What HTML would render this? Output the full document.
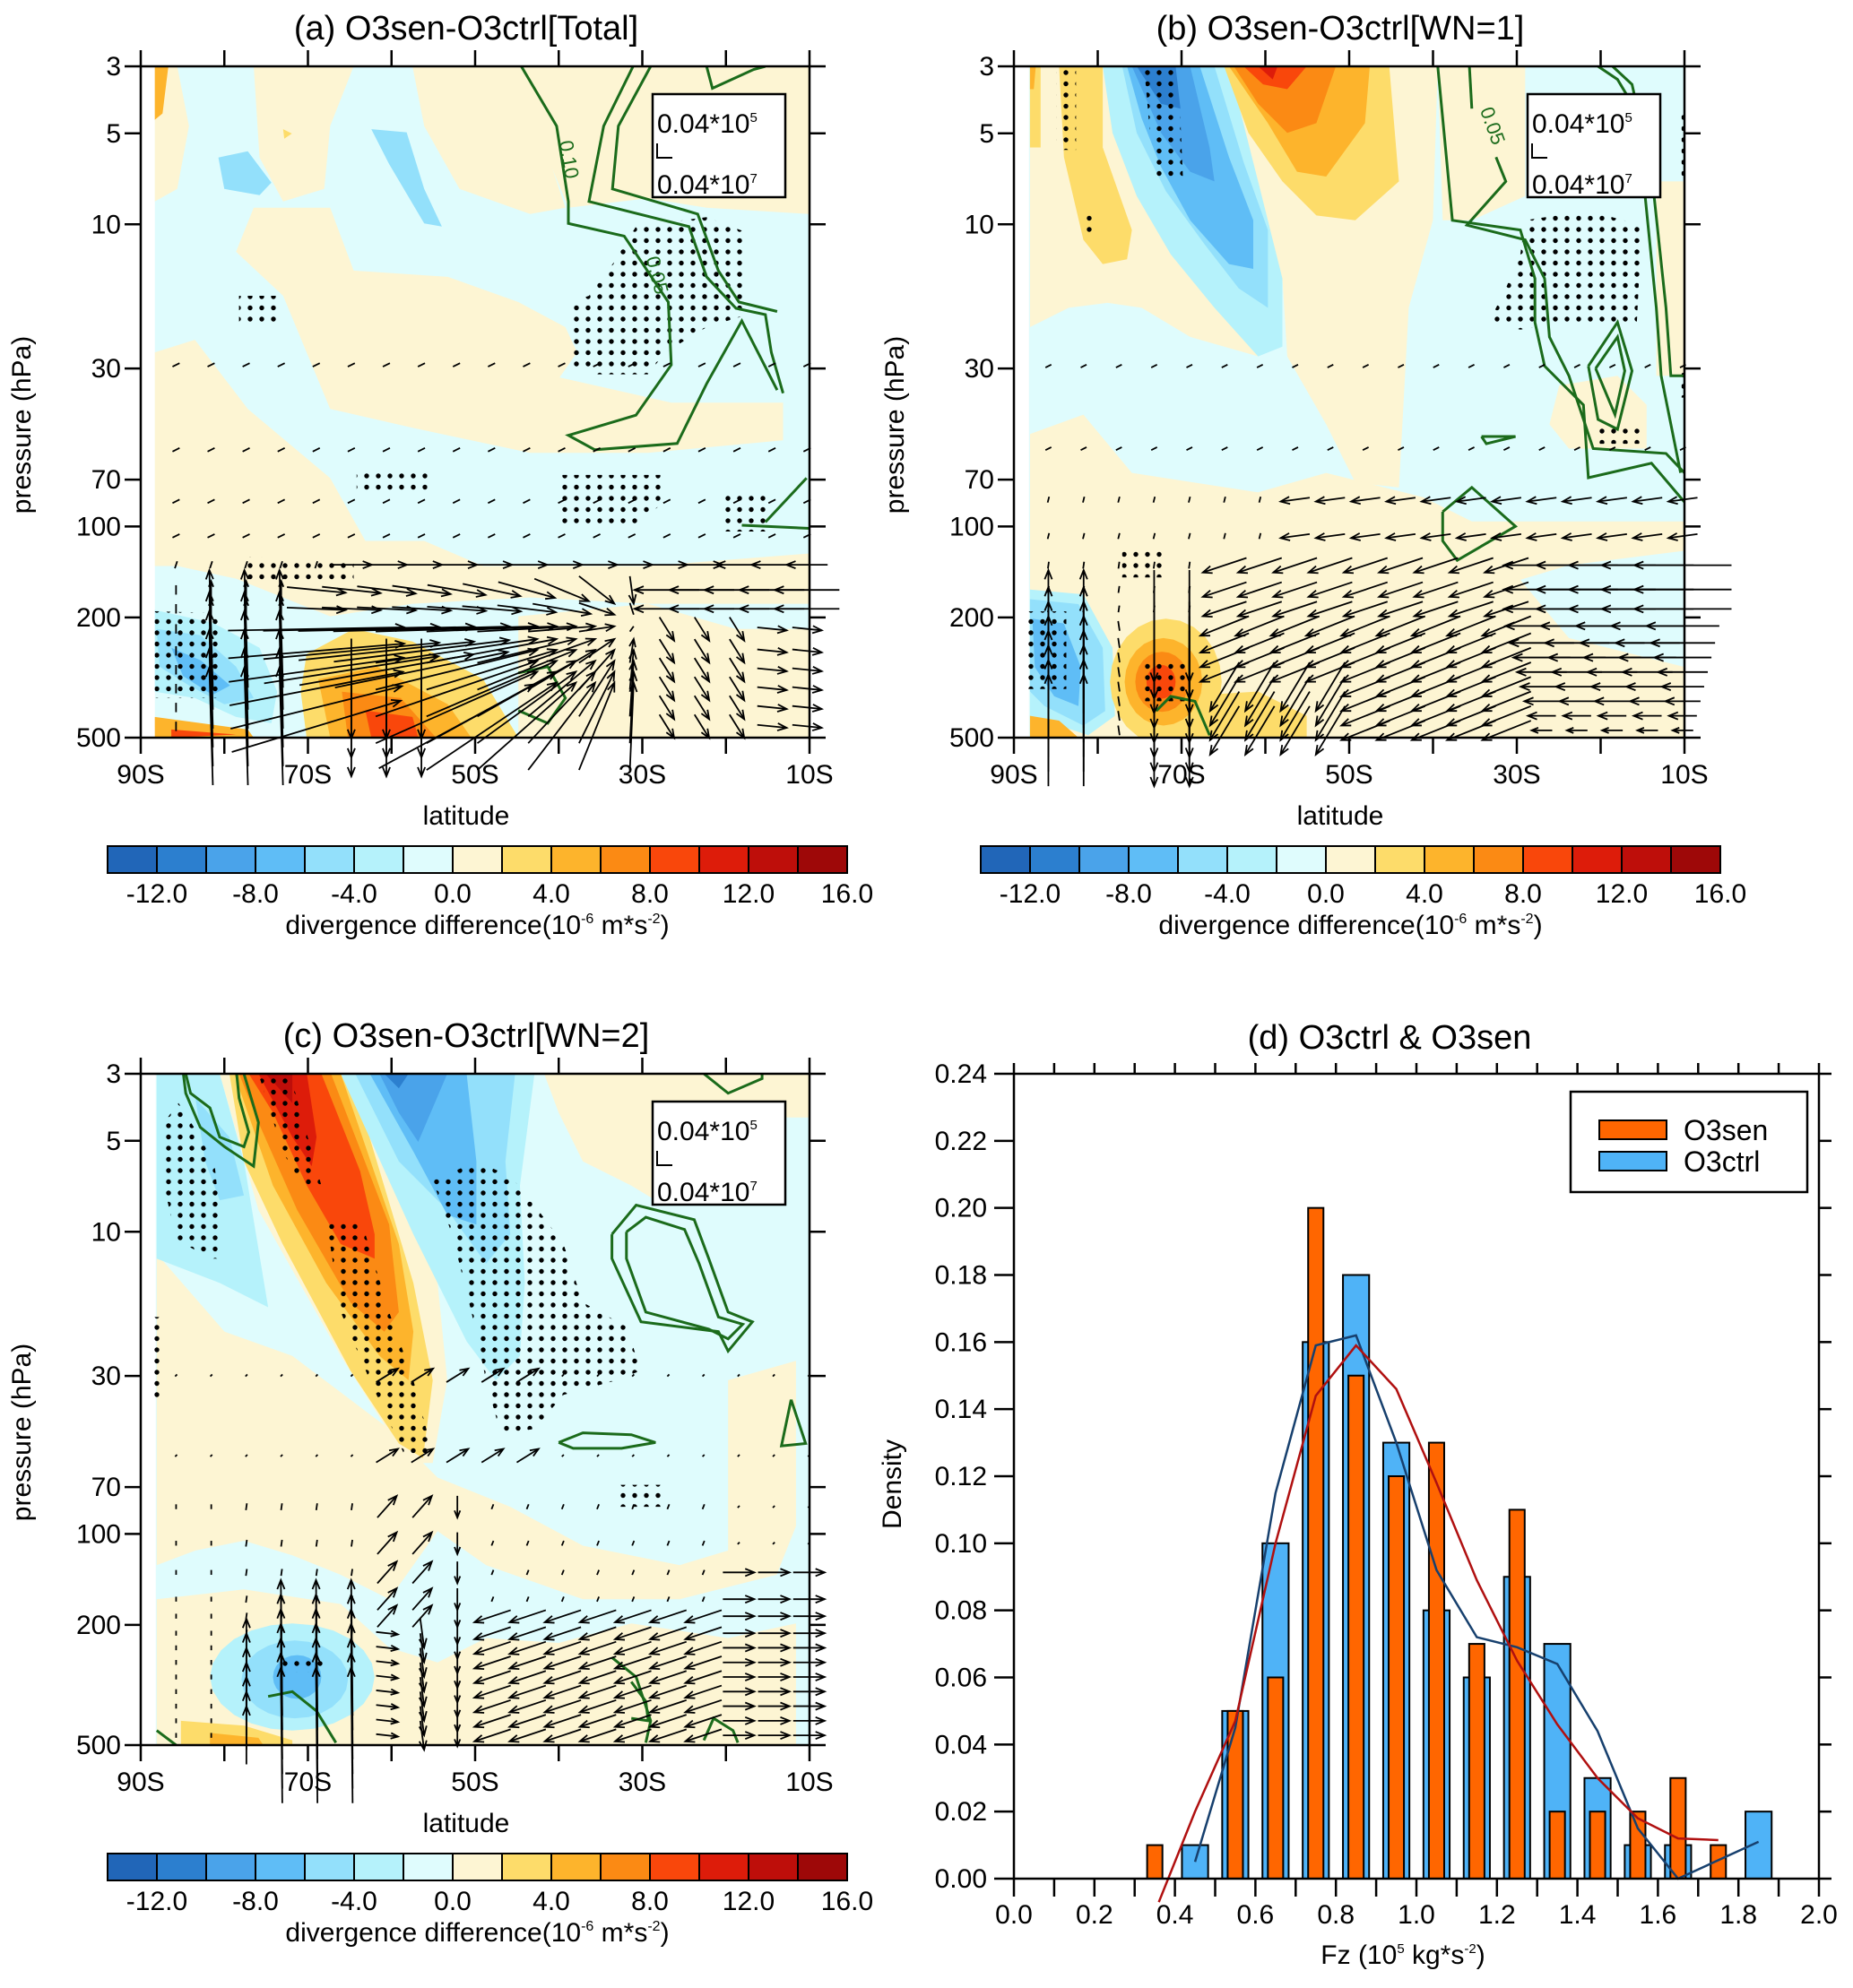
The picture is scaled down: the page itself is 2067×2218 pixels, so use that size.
<!DOCTYPE html>
<html><head><meta charset="utf-8">
<style>
html,body{margin:0;padding:0;background:#fff;}
svg{display:block;font-family:"Liberation Sans",sans-serif;}
</style></head>
<body>
<svg id="fig" width="2067" height="2218" viewBox="0 0 2067 2218" xmlns="http://www.w3.org/2000/svg">
<defs>
<pattern id="dots" width="13" height="12.5" patternUnits="userSpaceOnUse"><circle cx="6" cy="6" r="2.7" fill="#000"/></pattern>
<clipPath id="clipA"><rect x="157" y="74" width="746" height="749"/></clipPath>
<clipPath id="clipB"><rect x="1131" y="74" width="748" height="749"/></clipPath>
<clipPath id="clipC"><rect x="157" y="1198" width="746" height="749"/></clipPath>
</defs>
</svg>
<script>
// ---------- Panel (d) histogram data ----------
const binCenters = [0.35,0.45,0.55,0.65,0.75,0.85,0.95,1.05,1.15,1.25,1.35,1.45,1.55,1.65,1.75,1.85];
const ctrlDensity = [0.00,0.01,0.05,0.10,0.16,0.18,0.13,0.08,0.06,0.09,0.07,0.03,0.01,0.01,0.00,0.02];
const senDensity  = [0.01,0.00,0.05,0.06,0.20,0.15,0.12,0.13,0.07,0.11,0.02,0.02,0.02,0.03,0.01,0.00];
const ctrlCurveX = [0.45,0.55,0.65,0.75,0.85,0.95,1.05,1.15,1.25,1.35,1.45,1.55,1.65,1.85];
const ctrlCurveY = [0.005,0.045,0.115,0.159,0.162,0.13,0.092,0.072,0.069,0.064,0.044,0.015,0.0,0.011];
const senCurveX = [0.36,0.45,0.55,0.65,0.75,0.85,0.95,1.05,1.15,1.25,1.35,1.45,1.55,1.65,1.75];
const senCurveY = [-0.007,0.02,0.047,0.10,0.144,0.159,0.146,0.118,0.089,0.065,0.046,0.03,0.018,0.012,0.0115];
const dYTicks = [0,0.02,0.04,0.06,0.08,0.10,0.12,0.14,0.16,0.18,0.20,0.22,0.24];
const dXTicks = [0.0,0.2,0.4,0.6,0.8,1.0,1.2,1.4,1.6,1.8,2.0];
// ---------- contour panel axes ----------
const pTicks = [3,5,10,30,70,100,200,500];
const latTicks = [-90,-70,-50,-30,-10];
const cbLabels = ["-12.0","-8.0","-4.0","0.0","4.0","8.0","12.0","16.0"];
const cbColors = ['#2166b8','#2c7fcf','#4aa3ea','#5fbdf6','#93e0fb','#b5f2fb','#dffcfd','#fdf5d3','#fddc6a','#fdb42c','#fb8a14','#f9470b','#dd1c0a','#be0e0a','#9e0808'];

const NS="http://www.w3.org/2000/svg";
const svg=document.getElementById('fig');
function el(tag,attrs,parent){const e=document.createElementNS(NS,tag);for(const k in attrs)e.setAttribute(k,attrs[k]);(parent||svg).appendChild(e);return e;}
function txt(s,x,y,size,anchor,parent){const t=el('text',{x:x,y:y,'font-size':size,'text-anchor':anchor||'middle',fill:'#000'},parent);t.textContent=s;return t;}

const PY='#fdf5d3',Y2='#fddc6a',O1='#fdb42c',O2='#fb8a14',R1='#f9470b',R2='#dd1c0a',R3='#be0e0a';
const B1='#b5f2fb',B2='#93e0fb',B3='#5fbdf6',B4='#4aa3ea',B5='#2c7fcf';
function ell(cx,cy,rx,ry){const p=[];for(let i=0;i<24;i++){const a=i/24*2*Math.PI;p.push([cx+rx*Math.cos(a),cy+ry*Math.sin(a)]);}return p;}

const panels=[
 {id:'a',title:'(a) O3sen-O3ctrl[Total]',X:157,Y:74,W:746,H:749,zx0:238,zy0:105,zw:1137,zh:1068,dataStart:262,clip:'clipA',
  shapes:[
   [PY,[[880,105],[1375,105],[1375,340],[1200,330],[1100,315],[965,330],[930,250],[900,180]]],
   [PY,[[430,105],[600,105],[560,200],[550,300],[480,320],[440,250]]],
   [PY,[[700,105],[880,105],[960,330],[900,340],[780,300],[720,200]]],
   [PY,[[262,105],[300,105],[320,200],[300,300],[262,320]]],
   [PY,[[430,330],[560,330],[600,430],[760,440],[880,480],[960,520],[980,560],[950,600],[1140,640],[1330,640],[1330,700],[1100,720],[900,720],[700,680],[560,650],[520,560],[480,470],[400,400]]],
   [PY,[[262,560],[330,540],[420,650],[560,760],[620,860],[720,860],[820,900],[1000,900],[1100,900],[1375,880],[1375,960],[1100,960],[900,950],[700,960],[560,980],[400,920],[300,900],[262,900]]],
   [PY,[[880,980],[1100,960],[1250,1000],[1375,1000],[1375,1173],[880,1173]]],
   [Y2,[[520,1040],[600,1000],[700,1020],[820,1080],[880,1173],[520,1173],[510,1100]]],
   [O1,[[540,1080],[640,1060],[760,1120],[800,1173],[560,1173]]],
   [O2,[[580,1100],[680,1110],[740,1173],[590,1173]]],
   [R1,[[620,1130],[700,1140],[710,1173],[630,1173]]],
   [O1,[[262,1140],[420,1160],[430,1173],[262,1173]]],
   [R1,[[290,1160],[400,1168],[290,1173]]],
   [O1,[[262,105],[285,105],[275,180],[262,190]]],
   [Y2,[[480,205],[495,212],[482,220]]],
   [B1,[[262,970],[360,990],[440,1030],[470,1100],[460,1150],[400,1140],[330,1110],[262,1100]]],
   [B2,[[265,1000],[340,1010],[400,1060],[430,1110],[380,1120],[320,1090],[270,1060]]],
   [B3,[[290,1030],[340,1050],[390,1090],[360,1105],[310,1075]]],
   [B2,[[370,250],[420,240],[460,290],[440,310],[380,300]]],
   [B2,[[630,205],[690,210],[720,300],[750,360],[720,355],[660,260]]]
  ],
  dots:[
   [[1080,360],[1200,345],[1270,370],[1270,500],[1200,520],[1130,560],[1100,595],[1010,595],[970,580],[970,480],[1000,470],[1040,420]],
   [[405,470],[470,470],[470,520],[405,520]],
   [[605,745],[725,745],[725,780],[605,780]],
   [[945,755],[1125,755],[1125,800],[1080,835],[945,835]],
   [[1225,780],[1310,780],[1310,845],[1225,845]],
   [[262,972],[370,975],[375,1110],[262,1110]],
   [[420,885],[600,890],[600,925],[420,925]]
  ],
  green:[
   [[885,105],[945,200],[965,320],[965,355],[1060,375],[1135,480],[1140,580],[1080,660],[965,692],[1010,715],[1150,705],[1200,610],[1260,510],[1320,620]],
   [[1075,105],[1025,200],[1000,320],[1170,360],[1200,440],[1250,490],[1300,500],[1310,560],[1330,625]],
   [[1105,105],[1050,200],[1040,300],[1185,340],[1220,430],[1255,480],[1320,495]],
   [[1200,105],[1210,140],[1280,110],[1300,105]],
   [[1260,835],[1375,840]],[[1300,830],[1370,760]],
   [[880,1070],[930,1060],[960,1110],[930,1150],[880,1130]]
  ],
  glabels:[['0.10',955,255,80],['0.05',1105,440,75]],
  cols:{start:298,step:59.6,n:19},rows:[580,715,797,852,898,938,968,1000,1035,1065,1095,1125,1155],
  fn:function(x,y){
   if(y<=852) return [12,-6];
   if(y===898){ if(x<560) return [4,-12]; if(x<1250) return [70,0]; return [-70,0]; }
   if(x<330) return [0,16];
   if(x<500){ if(y>=1000) return [-6,-200]; return [0,-30]; }
   if(x<1090){
     if(y>=1095 && x>=580 && x<=740) return [0,170];
     const dx=1080-x, dy=990-y, d=Math.hypot(dx,dy); if(d<1) return [0,0];
     const cap = y<=968 ? 100 : 300;
     const L=Math.min(d*0.9,cap); return [dx/d*L,dy/d*L];
   }
   if(y<=968) return [-110,0];
   if(x>1300) return [50,5];
   return [25,40];
  }},
 {id:'b',title:'(b) O3sen-O3ctrl[WN=1]',X:1131,Y:74,W:748,H:749,zx0:57,zy0:63,zw:1381,zh:1382,dataStart:88,clip:'clipB',
  shapes:[
   [PY,[[90,63],[270,63],[300,300],[400,430],[530,560],[570,640],[560,660],[420,620],[320,560],[250,550],[170,560],[90,600]]],
   [PY,[[480,63],[930,63],[920,380],[870,560],[850,930],[760,920],[700,800],[620,660],[610,500],[560,400],[480,200]]],
   [PY,[[930,63],[1110,63],[1110,330],[1000,380],[940,380]]],
   [PY,[[1380,300],[1438,300],[1438,700],[1380,700]]],
   [PY,[[1180,720],[1300,700],[1360,760],[1360,850],[1200,850],[1160,800]]],
   [PY,[[90,820],[200,780],[300,900],[430,920],[560,940],[700,900],[900,950],[1000,1000],[1200,1000],[1440,1000],[1440,1060],[1200,1090],[1100,1120],[1200,1240],[1440,1300],[1440,1445],[90,1445]]],
   [B1,[[240,63],[500,63],[560,300],[610,500],[610,640],[560,660],[470,560],[380,450],[310,330],[260,200]]],
   [B2,[[280,63],[470,63],[530,260],[580,400],[580,560],[520,520],[450,430],[370,320],[310,200]]],
   [B3,[[290,63],[440,63],[500,250],[550,380],[550,480],[500,470],[420,380],[360,270],[320,170]]],
   [B4,[[300,63],[420,63],[460,230],[470,300],[420,280],[360,200]]],
   [B5,[[310,63],[390,63],[400,150],[360,140]]],
   [Y2,[[490,63],[830,63],[850,300],[760,380],[680,370],[610,300],[540,200]]],
   [O1,[[500,63],[790,63],[780,180],[700,290],[640,280],[580,180]]],
   [O2,[[510,63],[720,63],[680,180],[620,200],[560,140]]],
   [R1,[[530,63],[660,63],[620,110],[570,100]]],
   [R2,[[560,63],[600,63],[590,90]]],
   [Y2,[[150,63],[240,63],[240,230],[300,400],[290,460],[240,470],[200,420],[160,250]]],
   [Y2,[[90,63],[112,63],[112,230],[90,230]]],
   [O1,[[90,63],[102,63],[98,110],[90,110]]],
   [B1,[[90,1140],[200,1150],[260,1260],[265,1400],[210,1440],[90,1400]]],
   [B2,[[90,1160],[190,1170],[240,1260],[245,1390],[200,1420],[120,1380],[90,1350]]],
   [B3,[[95,1200],[160,1210],[195,1300],[190,1380],[140,1360],[100,1300]]],
   [Y2,[[400,1360],[560,1350],[660,1400],[660,1445],[400,1445]]],
   [Y2,ell(370,1330,115,130)],[O1,ell(365,1330,80,90)],[O2,ell(362,1330,55,62)],[R1,ell(360,1330,30,35)],
   [O1,[[90,1400],[150,1410],[190,1445],[90,1445]]]
  ],
  dots:[
   [[145,70],[185,70],[185,235],[145,235]],
   [[325,63],[395,63],[405,290],[345,290]],
   [[1110,380],[1240,360],[1350,390],[1340,590],[1200,590],[1100,605],[1035,590],[1070,520],[1100,450]],
   [[1255,800],[1355,800],[1355,840],[1255,840]],
   [[1432,155],[1445,155],[1445,300],[1432,300]],
   [[1432,690],[1445,690],[1445,745],[1432,745]],
   [[85,1185],[165,1185],[165,1345],[85,1345]],
   [[325,1285],[410,1285],[410,1370],[325,1370]],
   [[280,1055],[365,1055],[365,1115],[280,1115]],
   [[195,360],[230,360],[230,410],[195,410]]
  ],
  green:[
   [[930,63],[960,380],[1100,400],[1130,500],[1130,590],[1150,680],[1230,760],[1240,910],[1370,880],[1438,960]],
   [[995,63],[1000,150]],
   [[1050,250],[1070,300],[990,390],[1110,420],[1150,500],[1160,620],[1200,700],[1250,850],[1400,860],[1438,900]],
   [[1260,63],[1300,90],[1330,140],[1350,260],[1380,560],[1390,700],[1430,900]],
   [[1290,63],[1330,100],[1370,280],[1400,560],[1410,700],[1438,700]],
   [[1240,680],[1300,590],[1330,690],[1300,810],[1260,790],[1240,680]],
   [[1255,685],[1300,620],[1315,690],[1295,780],[1255,685]],
   [[1020,825],[1090,825],[1030,840],[1020,825]],
   [[940,980],[1000,930],[1090,1010],[970,1080],[940,1040],[940,980]],
   [[350,1390],[380,1360],[430,1370],[460,1440]]
  ],
  glabels:[['0.05',1030,190,70]],
  cols:{start:128,step:72.6,n:19},rows:[680,850,955,1030,1090,1140,1180,1215,1250,1280,1310,1340,1370,1400,1430],
  fn:function(x,y){
   if(y<=850) return [12,-6];
   if(y<=1030){ if(x<600) return [3,-12]; return [-60,8]; }
   if(y<=1180){ if(x<420) return [2,-14]; if(x<1100) return [-90,30]; return [-150-(x-1100)*0.15,0]; }
   if(x<240) return [0,-230];
   if(x<300) return [3,20];
   if(x<450) return [0,230];
   if(x<1100){ if(y>=1340 && x<720) return [-60,100]; return [-100,40]; }
   return [-Math.max(30,150-(y-1215)*0.5),0];
  }},
 {id:'c',title:'(c) O3sen-O3ctrl[WN=2]',X:157,Y:1198,W:746,H:749,zx0:87,zy0:70,zw:1381,zh:1380,dataStart:118,clip:'clipC',
  shapes:[
   [PY,[[920,70],[1468,70],[1468,160],[1420,160],[1400,300],[1300,330],[1150,330],[1100,300],[1000,250],[950,150]]],
   [PY,[[120,440],[260,600],[400,650],[600,800],[700,900],[850,960],[1000,1040],[1200,1080],[1300,1050],[1300,700],[1440,660],[1440,1000],[1400,1100],[1200,1150],[1000,1150],[800,1080],[700,1010],[600,1150],[500,1100],[400,1060],[300,1030],[200,1050],[120,1080]]],
   [PY,[[120,1150],[300,1130],[500,1160],[600,1250],[700,1280],[800,1230],[950,1240],[1100,1200],[1300,1230],[1440,1200],[1440,1450],[120,1450]]],
   [B1,[[120,70],[250,70],[300,250],[350,550],[250,500],[120,450]]],
   [B2,[[200,120],[270,200],[300,320],[250,330],[220,250]]],
   [PY,[[250,70],[540,70],[700,500],[720,700],[690,870],[640,870],[500,650],[330,350]]],
   [Y2,[[270,70],[520,70],[650,500],[690,700],[670,860],[620,830],[520,680],[380,420],[300,250]]],
   [O1,[[280,70],[500,70],[620,420],[650,600],[640,700],[580,650],[470,500],[360,300]]],
   [O2,[[290,70],[480,70],[600,380],[620,560],[590,600],[520,540],[410,350],[330,170]]],
   [R1,[[310,70],[460,70],[540,270],[570,400],[570,450],[500,420],[430,300],[360,150]]],
   [R2,[[330,70],[430,70],[450,200],[440,260],[400,200]]],
   [R3,[[345,70],[400,70],[400,130]]],
   [B1,[[500,70],[900,70],[870,300],[880,500],[870,650],[820,700],[760,620],[650,400]]],
   [B2,[[530,70],[860,70],[840,250],[850,400],[800,460],[720,350],[620,250]]],
   [B3,[[560,70],[760,70],[780,250],[780,380],[720,360],[650,230]]],
   [B4,[[580,70],[720,70],[660,210],[620,150]]],
   [B5,[[590,70],[640,70],[620,100]]],
   [B1,ell(400,1310,170,110)],[B2,ell(405,1315,110,80)],[B3,ell(410,1310,50,45)],
   [Y2,[[170,1400],[300,1410],[400,1440],[400,1450],[170,1450]]],
   [O1,[[230,1425],[330,1435],[340,1450],[230,1450]]]
  ],
  dots:[
   [[135,170],[165,130],[210,200],[240,260],[260,450],[230,450],[160,410],[135,300]],
   [[330,70],[395,70],[460,300],[420,300],[380,230]],
   [[470,370],[545,380],[600,560],[650,700],[690,850],[630,850],[560,700],[500,560]],
   [[690,290],[780,250],[850,280],[900,340],[960,420],[1000,540],[1090,590],[1120,680],[1070,700],[960,730],[900,800],[830,810],[800,700],[770,560],[730,400]],
   [[1065,915],[1165,915],[1165,960],[1065,960]],
   [[112,570],[126,570],[126,740],[112,740]],
   [[375,1265],[470,1265],[470,1300],[375,1300]]
  ],
  green:[
   [[180,70],[190,110],[230,140],[250,200],[300,220],[310,190],[290,120],[285,70]],
   [[175,70],[180,110],[210,180],[260,220],[320,260],[330,170],[300,70]],
   [[1060,400],[1110,340],[1230,370],[1260,450],[1300,560],[1350,580],[1300,640],[1280,600],[1120,580],[1060,450],[1060,400]],
   [[1090,395],[1130,365],[1210,390],[1240,460],[1280,570],[1330,585],[1300,615],[1260,595],[1130,560],[1090,450],[1090,395]],
   [[1250,70],[1300,110],[1370,80],[1370,70]],
   [[950,828],[1000,808],[1100,812],[1150,828],[1080,840],[980,840],[950,828]],
   [[1430,740],[1410,835],[1460,830],[1430,740]],
   [[1060,1270],[1110,1310],[1140,1400],[1130,1445]],[[1100,1320],[1130,1360],[1135,1400],[1100,1395]],
   [[350,1350],[400,1340],[450,1380],[490,1445]],[[120,1420],[160,1450]],
   [[1250,1440],[1270,1395],[1310,1420],[1320,1445]]
  ],
  glabels:[],
  cols:{start:160,step:72.6,n:19},rows:[690,855,960,1035,1095,1150,1185,1220,1250,1280,1310,1340,1370,1400,1430],
  fn:function(x,y){
   if(y<=855){ if(x>=590 && x<=890) return [45,-28]; return [4,-4]; }
   if(x<=240) return [0,10];
   if(x<=530){ if(y>=1250 && x>=370) return [-3,-280]; if(y>=1250) return [0,-120]; return [2,-14]; }
   if(x<=700){ if(y<=1185) return [40,-45]; if(x<650) return [45,5]; return [8,60]; }
   if(x<=760) return [0,45];
   if(x<=1260){ if(y<1185) return [4,-10]; return [-75,25]; }
   if(y>=1095) return [65,0];
   return [4,-4];
  }}
];

function drawArrow(g,cx,cy,dx,dy){
  const len=Math.hypot(dx,dy);
  const x1=cx-dx/2,y1=cy-dy/2,x2=cx+dx/2,y2=cy+dy/2;
  const a=el('line',{x1:x1,y1:y1,x2:x2,y2:y2,stroke:'#000','stroke-width':1.8},g);
  
  
  if(len>14){
    const h=Math.min(11,len*0.35),ux=dx/len,uy=dy/len,ca=Math.cos(0.38),sa=Math.sin(0.38);
    const p1=[x2-h*(ux*ca-uy*sa),y2-h*(uy*ca+ux*sa)],p2=[x2-h*(ux*ca+uy*sa),y2-h*(uy*ca-ux*sa)];
    el('polyline',{points:`${p1[0]},${p1[1]} ${x2},${y2} ${p2[0]},${p2[1]}`,fill:'none',stroke:'#000','stroke-width':1.8},g);
  }
}

panels.forEach(P=>{
  const mx=zx=>P.X+(zx-P.zx0)/P.zw*P.W, my=zy=>P.Y+(zy-P.zy0)/P.zh*P.H, s=P.W/P.zw;
  const pts=arr=>arr.map(q=>mx(q[0]).toFixed(1)+','+my(q[1]).toFixed(1)).join(' ');
  const g=el('g',{});
  const fill=el('g',{'clip-path':`url(#${P.clip})`,},g);
  el('rect',{x:mx(P.dataStart),y:P.Y,width:P.X+P.W-mx(P.dataStart),height:P.H,fill:'#dffcfd'},fill);
  P.shapes.forEach(sh=>el('polygon',{points:pts(sh[1]),fill:sh[0]},fill));
  const st=el('g',{},fill);
  P.dots.forEach(d=>el('polygon',{points:pts(d),fill:'url(#dots)'},st));
  const gr=el('g',{},fill);
  P.green.forEach(l=>el('polyline',{points:pts(l),fill:'none',stroke:'#1b6b1b','stroke-width':3},gr));
  P.glabels.forEach(l=>{const t=txt(l[0],mx(l[1]),my(l[2]),22,'middle',gr);t.setAttribute('fill','#1b6b1b');t.setAttribute('transform',`rotate(${l[3]} ${mx(l[1])} ${my(l[2])})`);});
  const ag=el('g',{},g);
  for(let i=0;i<P.cols.n;i++){const zx=P.cols.start+i*P.cols.step;
    P.rows.forEach(zy=>{const v=P.fn(zx,zy);drawArrow(ag,mx(zx),my(zy),v[0]*s,v[1]*s);});}
  el('rect',{x:P.X,y:P.Y,width:P.W,height:P.H,fill:'none',stroke:'#000','stroke-width':2.5,},g);
  const ly=p=>P.Y+P.H*Math.log(p/3)/Math.log(500/3);
  const lx=lat=>P.X+P.W*(lat+90)/80;
  pTicks.forEach(p=>{const y=ly(p);
    el('line',{x1:P.X-18,y1:y,x2:P.X,y2:y,stroke:'#000','stroke-width':2.5},g);
    el('line',{x1:P.X+P.W,y1:y,x2:P.X+P.W+18,y2:y,stroke:'#000','stroke-width':2.5},g);
    const t=txt(String(p),P.X-22,y+10,30,'end',g);
    });
  for(let lat=-90;lat<=-10;lat+=10){const x=lx(lat);
    el('line',{x1:x,y1:P.Y-18,x2:x,y2:P.Y,stroke:'#000','stroke-width':2.5},g);
    el('line',{x1:x,y1:P.Y+P.H,x2:x,y2:P.Y+P.H+18,stroke:'#000','stroke-width':2.5},g);}
  latTicks.forEach(lat=>{const t=txt((-lat)+'S',lx(lat),P.Y+P.H+51,30,'middle',g);});
  const tt=txt(P.title,P.X+P.W/2-10,P.Y-30,38,'middle',g);
  const xl=txt('latitude',P.X+P.W/2-10,P.Y+P.H+97,30,'middle',g);
  const yl=txt('pressure (hPa)',0,0,30,'middle',g);yl.setAttribute('transform',`translate(${P.X-123},${P.Y+400}) rotate(-90)`);
  const bx=P.X+P.W-175,by=P.Y+31;
  const rb=el('g',{},g);
  el('rect',{x:bx,y:by,width:148,height:115,fill:'#fff',stroke:'#000','stroke-width':2.5},rb);
  const t1=el('text',{x:bx+5,y:by+43,'font-size':30},rb);t1.innerHTML='0.04*10<tspan dy="-12" font-size="15">5</tspan>';
  const t2=el('text',{x:bx+5,y:by+111,'font-size':30},rb);t2.innerHTML='0.04*10<tspan dy="-12" font-size="15">7</tspan>';
  el('polyline',{points:`${bx+5},${by+55} ${bx+5},${by+71} ${bx+22},${by+71}`,fill:'none',stroke:'#000','stroke-width':2},rb);
  const cx0=P.X-37,cy0=P.Y+P.H+121,bw=55,bh=30;
  const cb=el('g',{},g);
  cbColors.forEach((c,i)=>el('rect',{x:cx0+i*bw,y:cy0,width:bw,height:bh,fill:c,stroke:'#000','stroke-width':2},cb));
  cbLabels.forEach((l,i)=>txt(l,cx0+(2*i+1)*bw,cy0+63,30,'middle',cb));
  const ct=el('text',{x:cx0+7.5*bw,y:cy0+98,'font-size':30,'text-anchor':'middle'},cb);
  ct.innerHTML='divergence difference(10<tspan dy="-12" font-size="16">-6</tspan><tspan dy="12"> m*s</tspan><tspan dy="-12" font-size="16">-2</tspan><tspan dy="12">)</tspan>';
});

// ---------- Panel d ----------
(function(){
  const X=1131,Y=1198,W=898,H=898;
  const sx=v=>X+v/2.0*W, sy=v=>Y+H-v/0.24*H;
  const g=el('g',{});
  const bars=el('g',{},g);
  binCenters.forEach((c,i)=>{ if(ctrlDensity[i]>0){const r=el('rect',{x:sx(c-0.0325),y:sy(ctrlDensity[i]),width:sx(0.065)-sx(0),height:sy(0)-sy(ctrlDensity[i]),fill:'#4fb3f7',stroke:'#000','stroke-width':2},bars);
    }});
  binCenters.forEach((c,i)=>{ if(senDensity[i]>0){const r=el('rect',{x:sx(c-0.019),y:sy(senDensity[i]),width:sx(0.038)-sx(0),height:sy(0)-sy(senDensity[i]),fill:'#ff6600',stroke:'#000','stroke-width':2},bars);
    }});
  const l1=el('polyline',{points:ctrlCurveX.map((x,i)=>sx(x)+','+sy(ctrlCurveY[i])).join(' '),fill:'none',stroke:'#17406e','stroke-width':2.5},g);
  
  const l2=el('polyline',{points:senCurveX.map((x,i)=>sx(x)+','+sy(senCurveY[i])).join(' '),fill:'none',stroke:'#b01010','stroke-width':2.5},g);
  
  el('rect',{x:X,y:Y,width:W,height:H,fill:'none',stroke:'#000','stroke-width':2.5,},g);
  dYTicks.forEach(v=>{const y=sy(v);
    el('line',{x1:X-22,y1:y,x2:X,y2:y,stroke:'#000','stroke-width':2.5},g);
    el('line',{x1:X+W,y1:y,x2:X+W+14,y2:y,stroke:'#000','stroke-width':2.5},g);
    const t=txt(v.toFixed(2),X-30,y+10,30,'end',g);});
  for(let k=0;k<=20;k++){const x=sx(k*0.1);
    el('line',{x1:x,y1:Y+H,x2:x,y2:Y+H+20,stroke:'#000','stroke-width':2.5},g);
    el('line',{x1:x,y1:Y-12,x2:x,y2:Y,stroke:'#000','stroke-width':2.5},g);}
  dXTicks.forEach(v=>{const t=txt(v.toFixed(1),sx(v),Y+H+50,30,'middle',g);});
  const tt=txt('(d) O3ctrl & O3sen',X+W/2-30,1170,38,'middle',g);
  const xl=el('text',{x:X+W/2-15,y:2191,'font-size':30,'text-anchor':'middle'},g);
  xl.innerHTML='Fz (10<tspan dy="-12" font-size="15">5</tspan><tspan dy="12"> kg*s</tspan><tspan dy="-12" font-size="15">-2</tspan><tspan dy="12">)</tspan>';
  
  const yl=txt('Density',0,0,30,'middle',g);yl.setAttribute('transform',`translate(1005,1656) rotate(-90)`);
  const lg=el('g',{},g);
  el('rect',{x:1752,y:1218,width:264,height:112,fill:'#fff',stroke:'#000','stroke-width':2.5},lg);
  const e1=el('rect',{x:1784,y:1250,width:75,height:21,fill:'#ff6600',stroke:'#000','stroke-width':2},lg);
  
  txt('O3sen',1878,1272,32,'start',lg);
  const e2=el('rect',{x:1784,y:1285,width:75,height:21,fill:'#4fb3f7',stroke:'#000','stroke-width':2},lg);
  
  txt('O3ctrl',1878,1307,32,'start',lg);
})();
</script>
</body></html>
